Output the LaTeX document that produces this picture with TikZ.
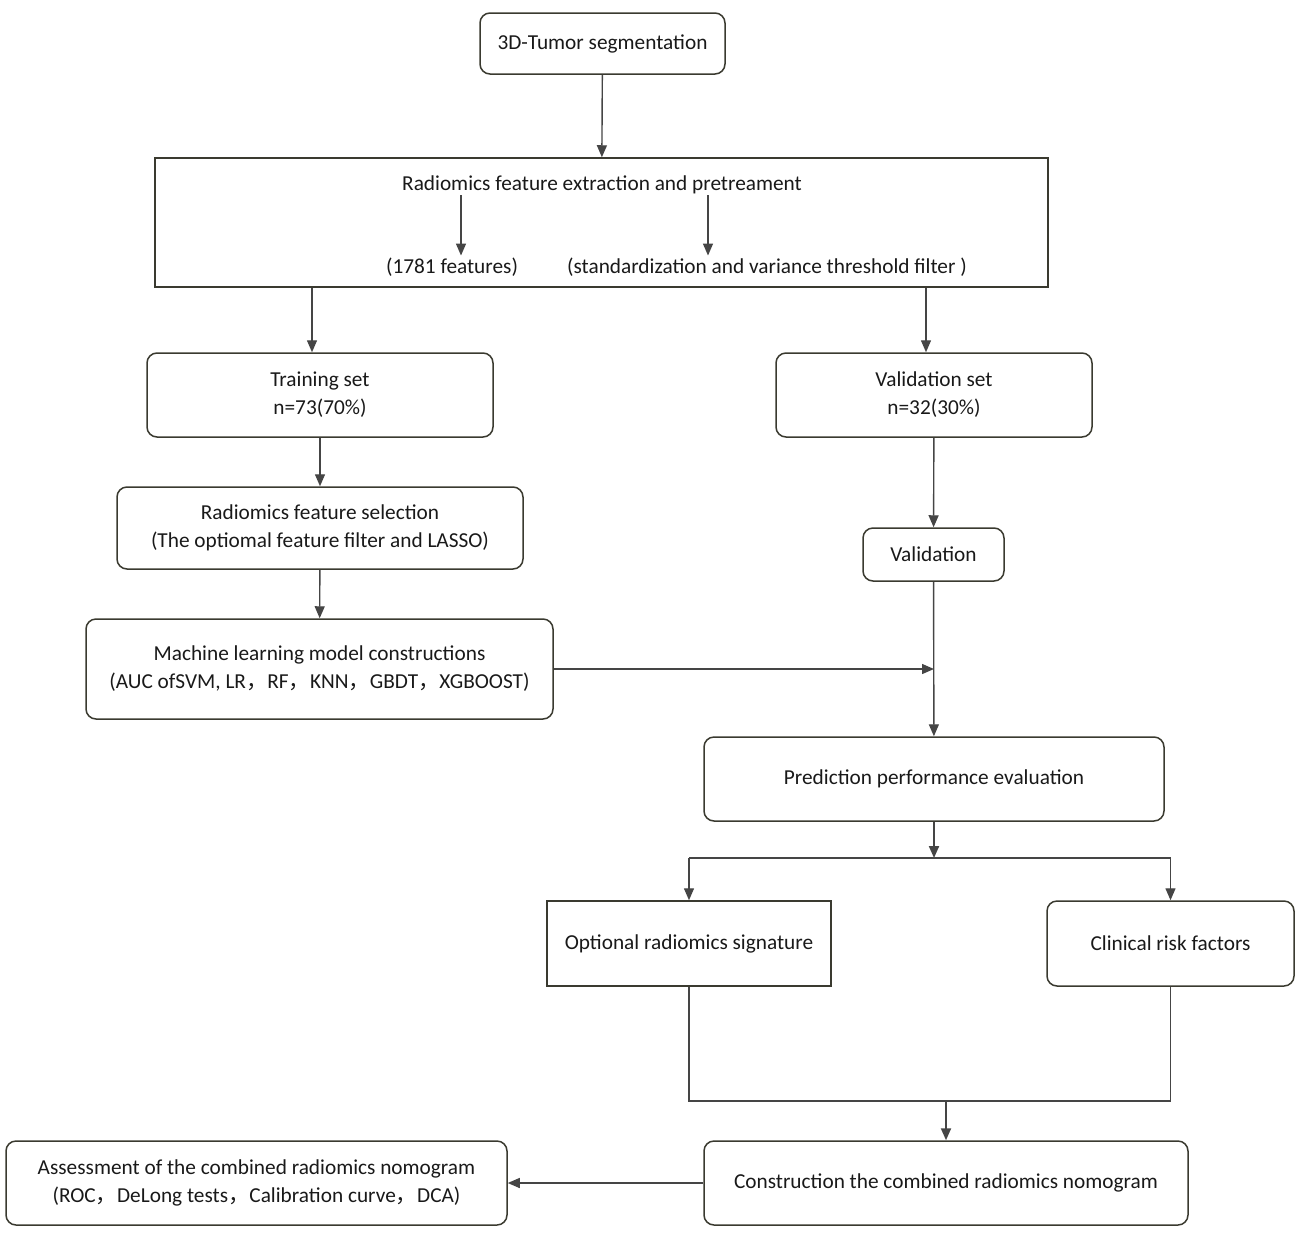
\documentclass[tikz,border=0pt]{standalone}
\usepackage{fontspec}
\setmainfont{Carlito}
\newfontfamily\cjk{Noto Sans CJK SC}
\usetikzlibrary{arrows.meta}
\definecolor{bordc}{HTML}{3A3A30}
\definecolor{linec}{HTML}{454545}
\newcommand{\fsz}{\fontsize{21.3}{28}\selectfont}
\newcommand{\fc}{{\cjk ，}}
\tikzset{
  box/.style={draw=bordc, line width=1.5pt, rounded corners=10pt, align=center, inner sep=0pt, font=\fsz, text=black!90},
  sbox/.style={box, sharp corners},
  txt/.style={align=center, inner sep=2pt, font=\fsz, text=black!90},
  conn/.style={draw=linec, line width=1.4pt},
  arr/.style={conn, -{Triangle[length=12pt,width=10pt]}}
}
\begin{document}
\begin{tikzpicture}[x=1pt,y=-1pt]
\useasboundingbox (0,0) rectangle (1299,1235);
\node[box, minimum width=245pt, minimum height=61pt] (seg) at (602.5,43.5) {3D-Tumor segmentation};
\node[sbox, minimum width=893pt, minimum height=129pt] (ext) at (601.5,222.5) {};
\node[txt] (t1) at (602,185) {Radiomics feature extraction and pretreament};
\node[txt] (f1) at (452,267) {(1781 features)};
\node[txt] (f2) at (767,267) {(standardization and variance threshold filter )};
\coordinate (a1) at (461,195);
\coordinate (a2) at (708,195);
\node[box, minimum width=346pt, minimum height=84pt] (tr) at (320,395) {Training set\\n=73(70\%)};
\node[box, minimum width=316pt, minimum height=84pt] (vs) at (934,395) {Validation set\\n=32(30\%)};
\node[box, minimum width=406pt, minimum height=82pt] (fs) at (320,528) {Radiomics feature selection\\(The optiomal feature filter and LASSO)};
\node[box, minimum width=141pt, minimum height=53pt] (va) at (933.5,554.5) {Validation};
\node[box, minimum width=467pt, minimum height=100pt] (ml) at (319.5,669) {Machine learning model constructions\\(AUC ofSVM, LR\fc RF\fc KNN\fc GBDT\fc XGBOOST)};
\node[box, minimum width=460pt, minimum height=84pt] (pe) at (934,779) {Prediction performance evaluation};
\node[sbox, minimum width=284pt, minimum height=85pt] (os) at (689,943.5) {Optional radiomics signature};
\node[box, minimum width=247pt, minimum height=85pt] (cr) at (1170.5,943.5) {Clinical risk factors};
\node[box, minimum width=484pt, minimum height=84pt] (cn) at (946,1183) {Construction the combined radiomics nomogram};
\node[box, minimum width=501pt, minimum height=84pt] (as) at (256.5,1183) {Assessment of the combined radiomics nomogram\\(ROC\fc DeLong tests\fc Calibration curve\fc DCA)};
\coordinate (j) at (934,669);
\coordinate (sp) at (934,858);
\coordinate (mg) at (946,1101);
% connectors
\draw[arr] (seg) -- (ext);
\draw[arr] (a1) -- (a1 |- f1.north);
\draw[arr] (a2) -- (a2 |- f2.north);
\draw[arr] ([xshift=-8pt]tr.north |- ext.south) -- ([xshift=-8pt]tr.north);
\draw[arr] ([xshift=-8pt]vs.north |- ext.south) -- ([xshift=-8pt]vs.north);
\draw[arr] (tr) -- (fs);
\draw[arr] (fs) -- (ml);
\draw[arr] (vs) -- (va);
\draw[arr] (va) -- (pe);
\draw[arr] (ml.east |- j) -- (j);
\draw[arr, line width=2pt] (pe) -- (sp);
\draw[conn] (os.north |- sp) -- (cr.north |- sp);
\draw[arr] (os.north |- sp) -- (os);
\draw[arr] (cr.north |- sp) -- (cr);
\draw[conn] (os.south) -- (os.south |- mg) -- (cr.south |- mg) -- (cr.south);
\draw[arr, line width=2pt] (mg) -- (cn);
\draw[arr] (cn) -- (as);
\end{tikzpicture}
\end{document}
